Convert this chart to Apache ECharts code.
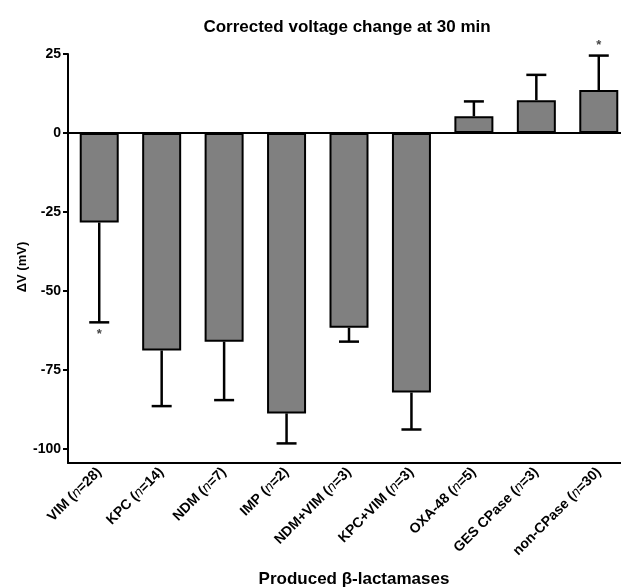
<!DOCTYPE html>
<html>
<head>
<meta charset="utf-8">
<script src="https://cdn.jsdelivr.net/npm/echarts@6/dist/echarts.min.js"></script>
<style>html,body{margin:0;padding:0;background:#fff;}#c{width:621px;height:588px;}</style>
</head>
<body>
<div id="c"></div>
<script>
const categories = ['VIM', 'KPC', 'NDM', 'IMP', 'NDM+VIM', 'KPC+VIM', 'OXA-48', 'GES CPase', 'non-CPase'];
const nValues = [28, 14, 7, 2, 3, 3, 5, 3, 30];
const means = [-28.3, -68.8, -66.0, -88.7, -61.6, -82.1, 5.3, 10.4, 13.6];
const errorEnds = [-59.9, -86.4, -84.5, -98.2, -66.0, -93.8, 10.0, 18.4, 24.5];
const significant = [1, 0, 0, 0, 0, 0, 0, 0, 1];
const yTicks = [-100, -75, -50, -25, 0, 25];

const font = 'Liberation Sans, Arial, sans-serif';
const chart = echarts.init(document.getElementById('c'));

const errData = categories.map((c, i) => [i, means[i], errorEnds[i], significant[i]]);

chart.setOption({
  animation: false,
  backgroundColor: '#fff',
  grid: { left: 68, top: 54, width: 562, height: 409, outerBoundsMode: 'none', containLabel: false },
  graphic: [
    { type: 'text', x: 347, y: 27, style: { text: 'Corrected voltage change at 30 min', font: 'bold 17px ' + font, fill: '#000', textAlign: 'center', textVerticalAlign: 'middle' } },
    { type: 'text', x: 22, y: 267, rotation: Math.PI / 2, style: { text: 'ΔV (mV)', font: 'bold 13px ' + font, fill: '#000', textAlign: 'center', textVerticalAlign: 'middle' } },
    { type: 'text', x: 354, y: 579, style: { text: 'Produced β-lactamases', font: 'bold 17px ' + font, fill: '#000', textAlign: 'center', textVerticalAlign: 'middle' } }
  ],
  xAxis: {
    type: 'category',
    data: categories,
    axisLine: { onZero: false, lineStyle: { color: '#000', width: 2 } },
    axisTick: { alignWithLabel: true, length: 5, lineStyle: { color: '#000', width: 2 } },
    axisLabel: {
      interval: 0,
      rotate: 45,
      margin: 7,
      formatter: (v, i) => '{b|' + v + ' (}{i|n}{b|=' + nValues[i] + ')}',
      rich: {
        b: { fontFamily: font, fontWeight: 'bold', fontSize: 14, color: '#000' },
        i: { fontFamily: font, fontStyle: 'italic', fontWeight: 'normal', fontSize: 14, color: '#000' }
      }
    }
  },
  yAxis: {
    type: 'value',
    min: -104.4,
    max: 25,
    splitLine: { show: false },
    axisLine: { show: true, lineStyle: { color: '#000', width: 2 } },
    axisTick: { show: true, length: 5, customValues: yTicks, lineStyle: { color: '#000', width: 2 } },
    axisLabel: { customValues: yTicks, margin: 7, fontFamily: font, fontWeight: 'bold', fontSize: 14, color: '#000' }
  },
  series: [
    {
      type: 'bar',
      data: means,
      barWidth: 39,
      itemStyle: { color: '#808080', borderColor: '#000', borderWidth: 2 },
      markLine: {
        silent: true,
        symbol: 'none',
        label: { show: false },
        lineStyle: { color: '#000', width: 2, type: 'solid' },
        data: [{ yAxis: 0 }]
      }
    },
    {
      type: 'custom',
      data: errData,
      z: 3,
      renderItem: function (params, api) {
        const x = api.value(0), m = api.value(1), e = api.value(2), s = api.value(3);
        const p0 = api.coord([x, m]);
        const p1 = api.coord([x, e]);
        const st = { stroke: '#000', lineWidth: 2.5 };
        const children = [
          { type: 'line', shape: { x1: p0[0], y1: p0[1], x2: p1[0], y2: p1[1] }, style: st },
          { type: 'line', shape: { x1: p1[0] - 10, y1: p1[1], x2: p1[0] + 10, y2: p1[1] }, style: st }
        ];
        if (s) {
          const dy = e < 0 ? 12 : -10;
          children.push({ type: 'text', style: { x: p1[0], y: p1[1] + dy, text: '*', font: 'bold 13px ' + font, fill: '#444', textAlign: 'center', textVerticalAlign: 'middle' } });
        }
        return { type: 'group', children: children };
      }
    }
  ]
});
</script>
</body>
</html>
